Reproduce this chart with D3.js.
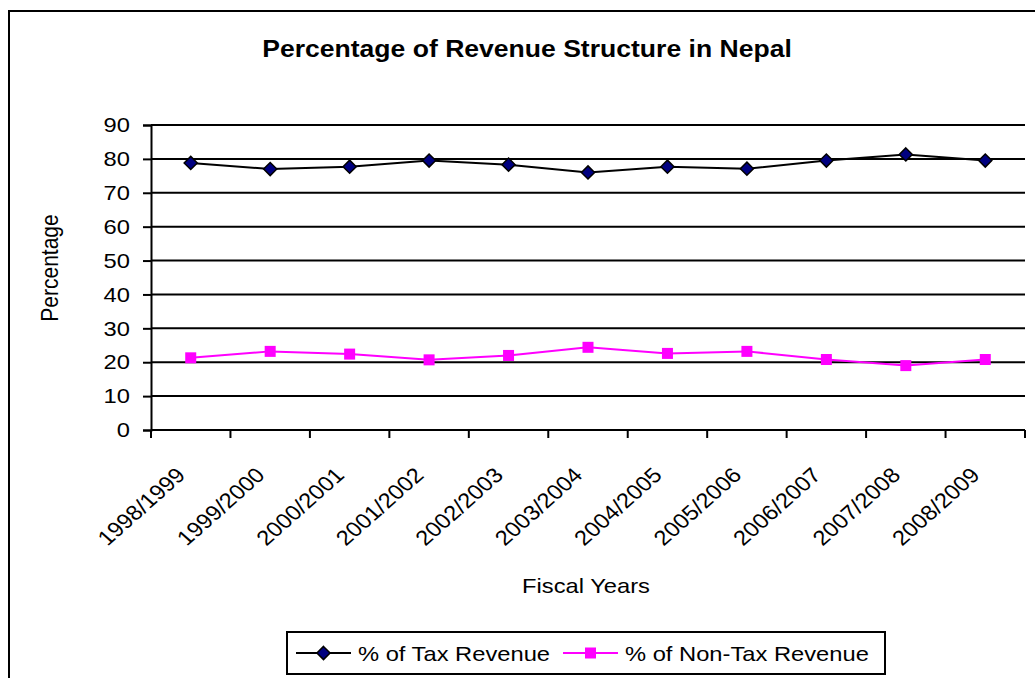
<!DOCTYPE html>
<html>
<head>
<meta charset="utf-8">
<script src="https://cdn.jsdelivr.net/npm/d3@7"></script>
<style>
  html, body { margin: 0; padding: 0; background: #fff; }
  svg { display: block; }
  text { font-family: "Liberation Sans", Arial, sans-serif; fill: #000; }
</style>
</head>
<body>
<svg id="chart" width="1035" height="678"></svg>
<script>
// Fiscal years and revenue shares (%)
const fiscalYears = ["1998/1999", "1999/2000", "2000/2001", "2001/2002", "2002/2003",
  "2003/2004", "2004/2005", "2005/2006", "2006/2007", "2007/2008", "2008/2009"];
const taxRevenue = [78.8, 77.0, 77.7, 79.5, 78.3, 76.0, 77.7, 77.1, 79.5, 81.3, 79.5];
const nonTaxRevenue = [21.3, 23.2, 22.4, 20.7, 22.0, 24.4, 22.6, 23.2, 20.8, 19.0, 20.8];
const yTicks = [0, 10, 20, 30, 40, 50, 60, 70, 80, 90];

// Text in this chart is set slightly wide
const SX = 1.13;

const svg = d3.select("#chart");

// Chart frame (extends past the right and bottom edges)
svg.append("rect")
  .attr("x", 9).attr("y", 11)
  .attr("width", 1040).attr("height", 680)
  .attr("fill", "#fff").attr("stroke", "#000").attr("stroke-width", 2);

const plot = { left: 151, right: 1025, top: 125, bottom: 430 };

const x = d3.scaleBand().domain(fiscalYears).range([plot.left, plot.right]).padding(0);
const y = d3.scaleLinear().domain([0, 90]).range([plot.bottom, plot.top]);
const cx = d => x(d) + x.bandwidth() / 2;

// Horizontal gridlines
svg.append("g").selectAll("line").data(yTicks.filter(t => t > 0)).join("line")
  .attr("x1", plot.left).attr("x2", plot.right)
  .attr("y1", d => y(d)).attr("y2", d => y(d))
  .attr("stroke", "#000").attr("stroke-width", 2);

// Y axis
const yAxis = svg.append("g")
  .attr("transform", `translate(${plot.left},0)`)
  .call(d3.axisLeft(y).tickValues(yTicks).tickSize(8).tickPadding(13));
yAxis.select(".domain").attr("stroke-width", 2);
yAxis.selectAll(".tick line").attr("stroke-width", 2);
yAxis.selectAll(".tick text")
  .attr("font-size", 21)
  .attr("font-family", "Liberation Sans, Arial, sans-serif")
  .attr("x", null)
  .attr("transform", `translate(-21,0) scale(${SX},1)`);

// X axis line and category boundary ticks
const xAxis = svg.append("g").attr("transform", `translate(0,${plot.bottom})`);
xAxis.append("line")
  .attr("x1", plot.left).attr("x2", plot.right)
  .attr("stroke", "#000").attr("stroke-width", 2);
const bounds = fiscalYears.map(d => x(d)).concat([x.range()[1]]);
xAxis.selectAll("line.tk").data(bounds).join("line").attr("class", "tk")
  .attr("x1", d => d).attr("x2", d => d).attr("y1", 0).attr("y2", 8)
  .attr("stroke", "#000").attr("stroke-width", 2);

// Rotated category labels
svg.append("g").selectAll("text").data(fiscalYears).join("text")
  .attr("transform", d => `translate(${cx(d) - 16},${plot.bottom + 36}) scale(${SX},1) rotate(-45)`)
  .attr("text-anchor", "end")
  .attr("dy", "0.71em")
  .attr("font-size", 21)
  .text(d => d);

// Series
const series = [
  { name: "% of Tax Revenue", values: taxRevenue, color: "#000", marker: "diamond", fill: "#000080" },
  { name: "% of Non-Tax Revenue", values: nonTaxRevenue, color: "#ff00ff", marker: "square", fill: "#ff00ff" }
];

const line = d3.line().x((d, i) => cx(fiscalYears[i])).y(d => y(d));

function drawMarker(g, s, px, py) {
  if (s.marker === "diamond") {
    g.append("path")
      .attr("d", d3.symbol(d3.symbolDiamond2, 110)())
      .attr("transform", `translate(${px},${py})`)
      .attr("fill", s.fill).attr("stroke", "#000").attr("stroke-width", 1.5);
  } else {
    g.append("rect")
      .attr("x", px - 5.5).attr("y", py - 5.5).attr("width", 11).attr("height", 11)
      .attr("fill", s.fill);
  }
}

series.forEach(s => {
  svg.append("path").datum(s.values)
    .attr("d", line).attr("fill", "none")
    .attr("stroke", s.color).attr("stroke-width", 2);
  const g = svg.append("g");
  s.values.forEach((v, i) => drawMarker(g, s, cx(fiscalYears[i]), y(v)));
});

// Title and axis titles
svg.append("text")
  .attr("transform", `translate(527,57) scale(${SX},1)`)
  .attr("text-anchor", "middle")
  .attr("font-size", 23.5).attr("font-weight", "bold")
  .text("Percentage of Revenue Structure in Nepal");

svg.append("text")
  .attr("transform", `translate(58,268) scale(${SX},1) rotate(-90)`)
  .attr("text-anchor", "middle")
  .attr("font-size", 21)
  .text("Percentage");

svg.append("text")
  .attr("transform", `translate(586,593) scale(${SX},1)`)
  .attr("text-anchor", "middle")
  .attr("font-size", 21)
  .text("Fiscal Years");

// Legend
const legend = svg.append("g");
legend.append("rect")
  .attr("x", 287).attr("y", 632).attr("width", 598).attr("height", 42)
  .attr("fill", "#fff").attr("stroke", "#000").attr("stroke-width", 2);
const legendItems = [
  { s: series[0], x0: 296 },
  { s: series[1], x0: 563 }
];
legendItems.forEach(it => {
  const ly = 653;
  legend.append("line")
    .attr("x1", it.x0).attr("x2", it.x0 + 55).attr("y1", ly).attr("y2", ly)
    .attr("stroke", it.s.color).attr("stroke-width", 2);
  drawMarker(legend, it.s, it.x0 + 27.5, ly);
  legend.append("text")
    .attr("transform", `translate(${it.x0 + 62},${ly}) scale(${SX},1)`)
    .attr("dy", "0.36em")
    .attr("font-size", 21)
    .text(it.s.name);
});
</script>
</body>
</html>
